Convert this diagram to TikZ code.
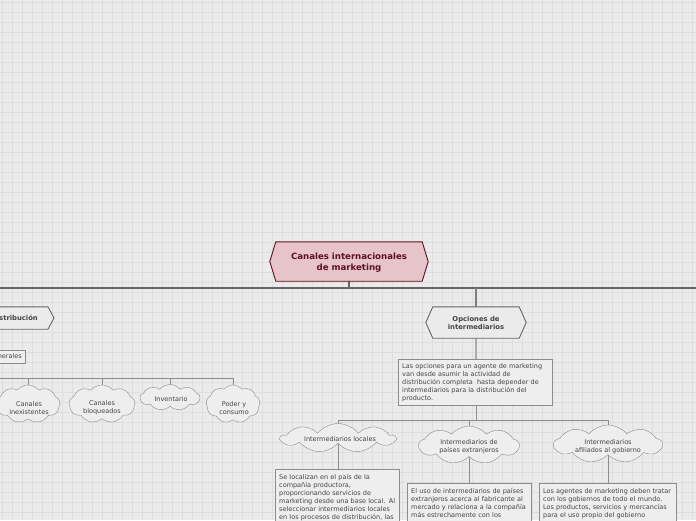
\documentclass[tikz,border=0pt]{standalone}
\usepackage{fontspec}
\setmainfont{DejaVu Sans}
\usetikzlibrary{shapes.symbols,calc}
\definecolor{bgcol}{HTML}{EBEBEB}
\definecolor{gridcol}{HTML}{DEDEDE}
\definecolor{rootfill}{HTML}{E6C4C9}
\definecolor{rootdraw}{HTML}{5C1020}
\definecolor{txtcol}{HTML}{444444}
\definecolor{linecol}{HTML}{666666}
\definecolor{thincol}{HTML}{8C8C8C}
\definecolor{boxfill}{HTML}{EEEEEE}
\pgfdeclarelayer{grid}
\pgfdeclarelayer{lines}
\pgfsetlayers{grid,lines,main}
\tikzset{
  small/.style={font=\fontsize{6.5}{8}\selectfont, text=txtcol},
  cloudnode/.style={cloud, cloud puffs=9, cloud puff arc=100, cloud ignores aspect,
    draw=thincol, fill=boxfill, inner sep=0pt},
  cloudtext/.style={align=center, inner sep=0pt, small},
  textbox/.style={draw=thincol, fill=boxfill, anchor=north west, align=left,
    inner xsep=4pt, inner ysep=4pt, small},
  hexbox/.style={inner sep=0pt, align=center},
  mainline/.style={draw=linecol, line width=1.8pt},
  midline/.style={draw=linecol!85, line width=1.3pt},
  thinline/.style={draw=thincol, line width=0.8pt},
}
\begin{document}
\begin{tikzpicture}[x=1pt,y=-1pt]
\useasboundingbox (0,0) rectangle (696,520);
\clip (0,0) rectangle (696,520);
\begin{pgfonlayer}{grid}
\fill[bgcol] (0,0) rectangle (696,520);
\foreach \g in {2.5,12.5,...,692.5} \draw[gridcol,line width=0.7pt] (\g,0) -- (\g,520);
\foreach \g in {2.5,12.5,...,522.5} \draw[gridcol,line width=0.7pt] (0,\g) -- (696,\g);
\end{pgfonlayer}

% free end of the main line (continues to the right, off the page)
\coordinate (offR) at (700,288);

% root
\node[hexbox, minimum width=146, minimum height=39] (root) at (349,261.5) {};
\draw[rootdraw, fill=rootfill, line width=0.9pt] (root.north west) -- (root.north east) -- ([xshift=6pt]root.east)
   -- (root.south east) -- (root.south west) -- ([xshift=-6pt]root.west) -- cycle;
\node[hexbox, font=\fontsize{8.6}{11}\selectfont\bfseries, text=rootdraw] (roottext) at ([yshift=-0.8pt]root.center)
      {Canales internacionales\\de marketing};

% left hexagon (partly off the page)
\node[hexbox, anchor=east, inner xsep=10pt, minimum height=22,
      font=\fontsize{6.8}{8}\selectfont\bfseries, text=txtcol] (dist) at (48,318)
      {\phantom{Canales de distribución}};
\draw[linecol, fill=bgcol, line width=0.9pt] (dist.north west) -- (dist.north east) -- ([xshift=6pt]dist.east)
   -- (dist.south east) -- (dist.south west) -- ([xshift=-6pt]dist.west) -- cycle;
\node[hexbox, font=\fontsize{6.8}{8}\selectfont\bfseries, text=txtcol] (disttext) at (dist.center) {Canales de distribución};

% right hexagon
\node[hexbox, minimum width=86, minimum height=31] (opc) at (476,322.5) {};
\draw[linecol, fill=bgcol, line width=0.9pt] (opc.north west) -- (opc.north east) -- ([xshift=7pt]opc.east)
   -- (opc.south east) -- (opc.south west) -- ([xshift=-7pt]opc.west) -- cycle;
\node[hexbox, font=\fontsize{6.8}{8}\selectfont\bfseries, text=txtcol] (opctext) at (opc.center) {Opciones de\\intermediarios};

% left branch
\node[draw=thincol, fill=boxfill, small, anchor=east, inner xsep=3pt, minimum height=13] (gen) at (25,357) {Problemas generales};
\node[cloudnode, minimum width=64, minimum height=38] (c1) at (28,404) {};
\node[cloudtext] (c1t) at (29,408) {Canales\\inexistentes};
\node[cloudnode, minimum width=66, minimum height=38] (c2) at (102,404) {};
\node[cloudtext] (c2t) at (102,408) {Canales\\bloqueados};
\node[cloudnode, minimum width=60, minimum height=26] (c3) at (170,397.5) {};
\node[cloudtext] (c3t) at (171,399) {Inventario};
\node[cloudnode, minimum width=54, minimum height=38] (c4) at (233,404) {};
\node[cloudtext] (c4t) at (234,408) {Poder y\\consumo};

% right branch
\node[textbox, text width=146] (opbox) at (398,359)
 {Las opciones para un agente de marketing\\van desde asumir la actividad de\\distribución completa \ hasta depender de\\intermediarios para la distribución del\\producto.};

\node[cloudnode, minimum width=114, minimum height=29] (m1) at (338,438) {};
\node[cloudtext] (m1t) at (340,439) {Intermediarios locales};
\node[cloudnode, minimum width=100, minimum height=38] (m2) at (469,445) {};
\node[cloudtext] (m2t) at (469,447) {Intermediarios de\\países extranjeros};
\node[cloudnode, minimum width=108, minimum height=38] (m3) at (608,444) {};
\node[cloudtext] (m3t) at (608,447) {Intermediarios\\afiliados al gobierno};

\node[textbox, text width=116, inner ysep=5pt] (b1) at (275,469)
 {Se localizan en el país de la\\compañía productora,\\proporcionando servicios de\\marketing desde una base local. Al\\seleccionar intermediarios locales\\en los procesos de distribución, las};
\node[textbox, text width=116, inner ysep=5pt] (b2) at (407,483)
 {El uso de intermediarios de países\\extranjeros acerca al fabricante al\\mercado y relaciona a la compañía\\más estrechamente con los\\\mbox{}};
\node[textbox, text width=129, inner ysep=5pt] (b3) at (539,483)
 {Los agentes de marketing deben tratar\\con los gobiernos de todo el mundo.\\Los productos, servicios y mercancías\\para el uso propio del gobierno\\\mbox{}};

\begin{pgfonlayer}{lines}
\draw[mainline] (dist.north) |- (offR);
\draw[mainline] (root.south) -- (root.south |- offR);
\draw[midline] (opc.north) -- (opc.north |- offR);
\foreach \c in {c1,c2,c3,c4} \draw[thinline] (gen.south) -- ++(0,14.5) -| (\c.center);
\draw[draw=linecol!55, line width=1.3pt] (opc.south) -- (opc.south |- opbox.north);
\foreach \c in {m1,m2,m3} \draw[thinline] ([xshift=1pt]opbox.south) -- ++(0,14.5) -| (\c.center);
\draw[thinline] (m1.center) -- (m1.center |- b1.north);
\draw[thinline] (m2.center) -- (m2.center |- b2.north);
\draw[thinline] (m3.center) -- (m3.center |- b3.north);
\end{pgfonlayer}
\end{tikzpicture}
\end{document}
